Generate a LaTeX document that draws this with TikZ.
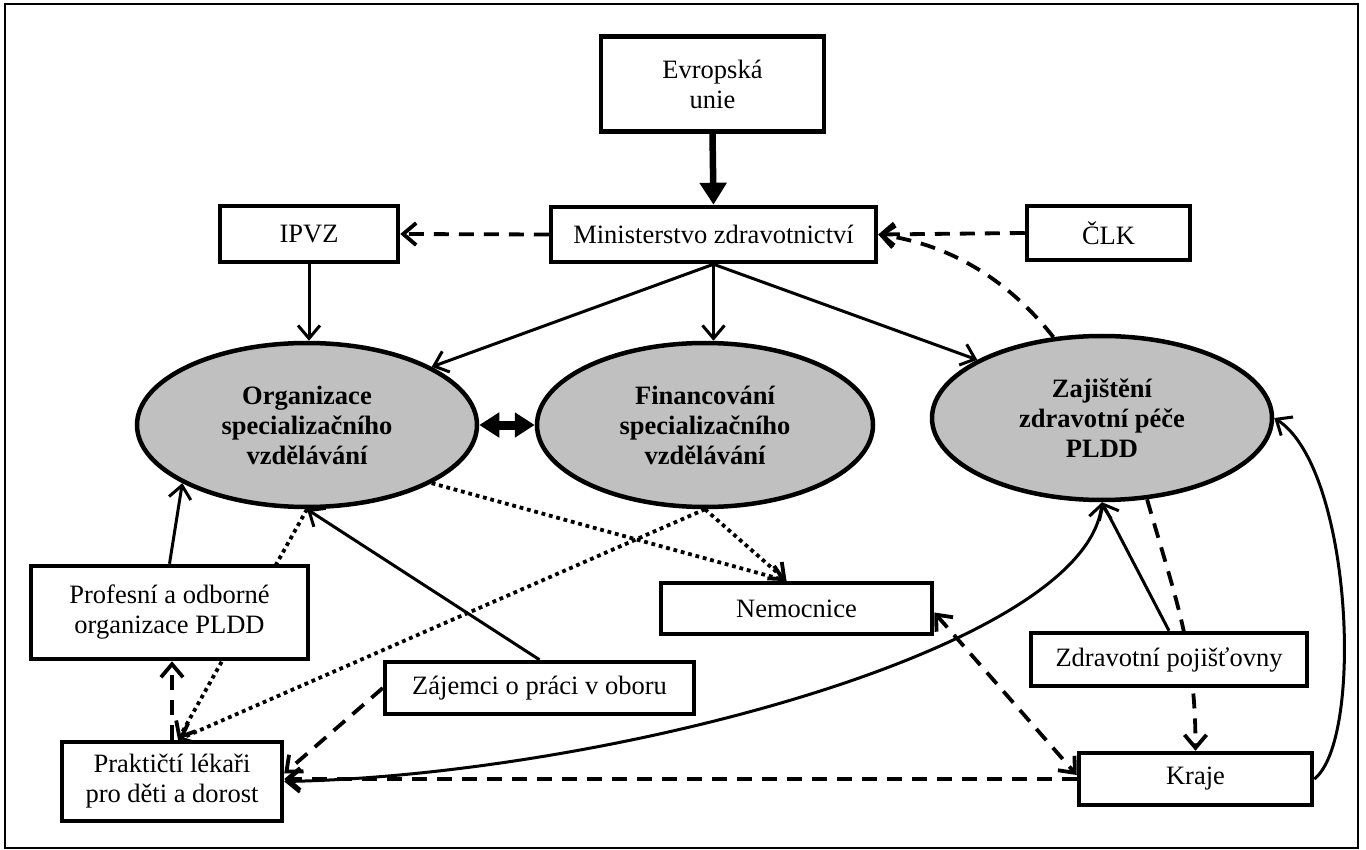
\documentclass[tikz,border=0pt]{standalone}
\usepackage{fontspec}
\setmainfont{Liberation Serif}
\usetikzlibrary{arrows.meta,shapes.geometric,backgrounds}
\definecolor{ellgray}{RGB}{192,192,192}
\tikzset{
  barb/.tip={Straight Barb[length=13pt,width=22pt]},
  fattri/.tip={Triangle[length=20pt,width=24pt]},
  box/.style={draw, line width=4.5pt, fill=white, inner sep=0pt, align=center,
    font=\fontsize{26.5}{30}\selectfont},
  oval/.style={ellipse, draw, line width=4.5pt, fill=ellgray, inner sep=0pt, align=center,
    minimum width=340pt, minimum height=164pt, font=\fontsize{26.5}{30}\selectfont\bfseries},
  conn/.style={line width=3pt, -barb},
  dashconn/.style={line width=3.8pt, dash pattern=on 15pt off 10pt, -barb},
  dotconn/.style={line width=3.8pt, dash pattern=on 3.8pt off 3.8pt, -barb},
}
\begin{document}
\begin{tikzpicture}[x=1pt,y=-1pt]
\useasboundingbox (0,0) rectangle (1366,850);

\node[box, minimum width=223pt, minimum height=95pt] (eu) at (712.5,84) {Evropská\\unie};
\node[box, minimum width=325pt, minimum height=55pt] (mz) at (713.5,234.5) {Ministerstvo zdravotnictví};
\node[box, minimum width=178pt, minimum height=56pt] (ipvz) at (309,234) {IPVZ};
\node[box, minimum width=163pt, minimum height=54pt] (clk) at (1108.5,233) {ČLK};
\node[oval] (org) at (307,425) {Organizace\\specializačního\\vzdělávání};
\node[oval, minimum width=336pt] (fin) at (705,425) {Financování\\specializačního\\vzdělávání};
\node[oval] (zaj) at (1102,418) {Zajištění\\zdravotní péče\\PLDD};
\node[box, minimum width=277pt, minimum height=93pt] (prof) at (169.5,612.5) {Profesní a odborné\\organizace PLDD};
\node[box, minimum width=309pt, minimum height=52pt] (zajem) at (539.5,688) {Zájemci o práci v oboru};
\node[box, minimum width=271pt, minimum height=51pt] (nem) at (796.5,608.5) {Nemocnice};
\node[box, minimum width=276pt, minimum height=53pt] (zdp) at (1169,659.5) {Zdravotní pojišťovny};
\node[box, minimum width=233pt, minimum height=52pt] (kraje) at (1195.5,779) {Kraje};
\node[box, minimum width=220pt, minimum height=79pt] (prak) at (172,781.5) {Praktičtí lékaři\\pro děti a dorost};

\begin{pgfonlayer}{background}
\draw[line width=1.5pt] (5,4) rectangle (1358,848);
\draw[line width=6.5pt, -{Triangle[length=22pt,width=26pt]}] (eu.south) -- (mz.north);
\draw[dashconn] (mz.west) -- (ipvz.east);
\draw[dashconn] (clk.west) -- (mz.east);
\draw[dashconn] (zaj.121) .. controls +(-45,-57) and +(72,10) .. (mz.east);
\draw[conn] (ipvz.south) -- (ipvz.south |- org.north);
\draw[conn] (mz.south) -- (org.25);
\draw[conn] (mz.south) -- (mz.south |- fin.north);
\draw[conn] (mz.south) -- (zaj.155);
\draw[line width=9pt, fattri-fattri] (org.east) -- (fin.west);
\draw[conn] (prof.north) -- (org.205);
\draw[conn] (zajem.north) -- (org.south);
\draw[dotconn] (org.south) -- ([xshift=6pt]prak.north);
\draw[dotconn] (org.335) -- ([xshift=-10pt]nem.north);
\draw[dotconn] (fin.south) -- ([xshift=-10pt]nem.north);
\draw[dotconn] (fin.south) -- ([xshift=6pt]prak.north);
\draw[dashconn] (prak.north) -- (prak.north |- prof.south);
\draw[dashconn] (zajem.west) -- ([yshift=8pt]prak.east);
\draw[conn, barb-barb] (prak.east) .. controls +(316,-6) and +(-17,148) .. (zaj.south);
\draw[dashconn] (kraje.west) -- (kraje.west -| prak.east);
\draw[dashconn, barb-barb] ([yshift=-4pt]nem.east) -- ([yshift=4pt]kraje.west);
\draw[dashconn] (zaj.-61) .. controls +(29,101) and +(0,-102) .. (kraje.north);
\draw[conn] (zdp.north) -- (zaj.south);
\draw[conn] (kraje.east) .. controls +(50,-39) and +(78,50) .. (zaj.east);
\end{pgfonlayer}
\end{tikzpicture}
\end{document}
